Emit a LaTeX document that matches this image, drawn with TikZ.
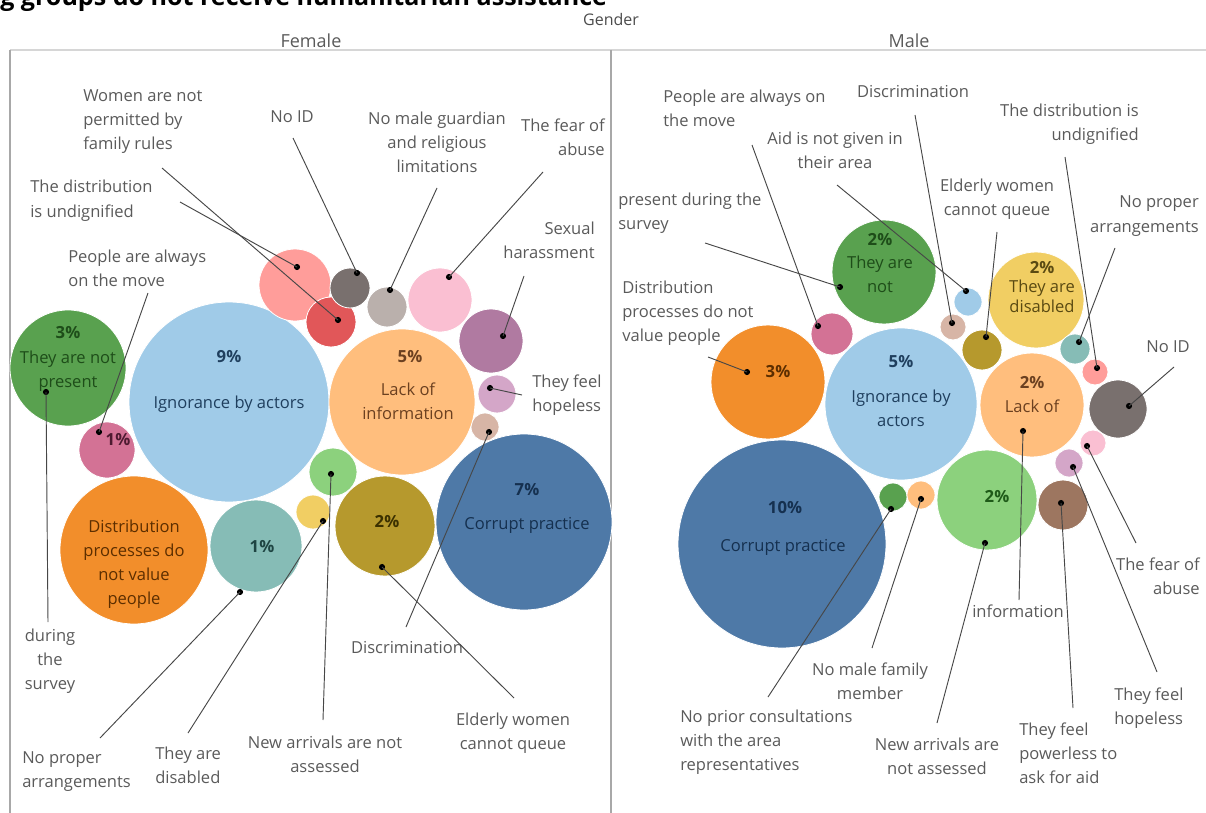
\documentclass[tikz,border=0pt]{standalone}
\usepackage{fontspec}
\setmainfont{Open Sans}
\definecolor{tblue}{HTML}{4E79A7}
\definecolor{tlblue}{HTML}{A0CBE8}
\definecolor{torange}{HTML}{F28E2B}
\definecolor{tlorange}{HTML}{FFBE7D}
\definecolor{tgreen}{HTML}{59A14F}
\definecolor{tlgreen}{HTML}{8CD17D}
\definecolor{tolive}{HTML}{B6992D}
\definecolor{tyellow}{HTML}{F1CE63}
\definecolor{tlteal}{HTML}{86BCB6}
\definecolor{tred}{HTML}{E15759}
\definecolor{tsalmon}{HTML}{FF9D9A}
\definecolor{tdgray}{HTML}{79706E}
\definecolor{tlgray}{HTML}{BAB0AC}
\definecolor{tpink}{HTML}{D37295}
\definecolor{tlpink}{HTML}{FABFD2}
\definecolor{tpurple}{HTML}{B07AA1}
\definecolor{tlpurple}{HTML}{D4A6C8}
\definecolor{tbrown}{HTML}{9D7660}
\definecolor{ttan}{HTML}{D7B5A6}
\definecolor{lblgray}{HTML}{5A5A5A}
\definecolor{framegray}{HTML}{A8A8A8}
\definecolor{rulegray}{HTML}{D6D6D6}
\definecolor{xgreen}{HTML}{1E4D19}
\definecolor{xlblue}{HTML}{1F3F5E}
\definecolor{xpink}{HTML}{4D1A30}
\definecolor{xorange}{HTML}{5C2E00}
\definecolor{xteal}{HTML}{1E4442}
\definecolor{xlorange}{HTML}{6B4020}
\definecolor{xolive}{HTML}{3B3000}
\definecolor{xblue}{HTML}{15304F}
\definecolor{xyellow}{HTML}{5A4A12}
\definecolor{xlgreen}{HTML}{1E5A18}
\newcommand\lblfont{\fontsize{12.4}{18}\selectfont}
\newcommand\pctfont{\bfseries\fontsize{12.5}{18}\selectfont}
\begin{document}
\begin{tikzpicture}[x=0.75pt,y=-0.75pt,
  bub/.style={circle, inner sep=0pt, minimum size=#1*1.5pt, draw=white, line width=0.6pt},
  dot/.style={circle, fill=black, inner sep=0pt, minimum size=4.6pt},
  leader/.style={draw=black!72, line width=0.7pt},
  lbl/.style={font=\lblfont, text=lblgray, inner sep=0pt, anchor=base},
  lblL/.style={lbl, align=left, anchor=base west},
  lblR/.style={lbl, align=right, anchor=base east},
  lblC/.style={lbl, align=center, anchor=base},
  intext/.style={font=\lblfont, inner sep=0pt, anchor=base, align=center, text=#1},
  pct/.style={font=\pctfont, inner sep=0pt, anchor=base, text=#1}]
\useasboundingbox (0,0) rectangle (1206,813);
\clip (0,0) rectangle (1206,813);
% title (clipped at top) and headers  -- multi-line nodes are anchored at the baseline of their last line
\node[font=\bfseries\fontsize{18.8}{20}\selectfont, inner sep=0pt, anchor=base west] (title) at (0,6) {g groups do not receive humanitarian assistance};
\node[font=\fontsize{12}{14}\selectfont, text=black!70, inner sep=0pt] (gender) at (611,20) {Gender};
\node[font=\fontsize{13.5}{16}\selectfont, text=lblgray, inner sep=0pt] (female) at (311,41) {Female};
\node[font=\fontsize{13.5}{16}\selectfont, text=lblgray, inner sep=0pt] (male) at (909,41) {Male};
\draw[rulegray, line width=0.8pt] (10,50) -- (1206,50);
\draw[framegray, line width=0.9pt] (10,50) -- (10,813);
\draw[framegray, line width=0.9pt] (611,50) -- (611,813);

% ---------------- Female bubbles
\node[bub=58, fill=tgreen] (fGrn) at (68,368) {};
\node[bub=28, fill=tpink] (fPnk) at (107,450) {};
\node[bub=100, fill=tlblue] (fIgn) at (229,402) {};
\node[bub=74, fill=torange] (fDist) at (134,550) {};
\node[bub=46, fill=tlteal] (fTeal) at (256,546) {};
\node[bub=36, fill=tsalmon] (fSal) at (295,285) {};
\node[bub=25, fill=tred] (fRed) at (331,322) {};
\node[bub=20, fill=tdgray] (fGray) at (350,288) {};
\node[bub=20, fill=tlgray] (fLGray) at (387,307) {};
\node[bub=32, fill=tlpink] (fLPnk) at (440,300) {};
\node[bub=32, fill=tpurple] (fPur) at (491,341) {};
\node[bub=19, fill=tlpurple] (fLPur) at (497,394) {};
\node[bub=14, fill=ttan] (fTan) at (485,427) {};
\node[bub=73, fill=tlorange] (fLack) at (402,402) {};
\node[bub=24, fill=tlgreen] (fLGrn) at (333,472) {};
\node[bub=17, fill=tyellow] (fYel) at (313,512) {};
\node[bub=50, fill=tolive] (fOli) at (385,526) {};
\node[bub=88, fill=tblue] (fBlue) at (524,522) {};

% Female bubble texts
\node[pct=xgreen] (tfGrnP) at (68,338) {3\%};
\node[intext=xgreen] (tfGrn) at (68,387) {They are not\\present};
\node[pct=xlblue] (tfIgnP) at (229,362) {9\%};
\node[intext=xlblue] (tfIgn) at (229,408) {Ignorance by actors};
\node[pct=xpink] (tfPnkP) at (118,445) {1\%};
\node[intext=xorange] (tfDist) at (134,604) {Distribution\\processes do\\not value\\people};
\node[pct=xteal] (tfTealP) at (262,552) {1\%};
\node[pct=xlorange] (tfLackP) at (410,362) {5\%};
\node[intext=xlorange] (tfLack) at (408,419) {Lack of\\information};
\node[pct=xolive] (tfOliP) at (387,527) {2\%};
\node[pct=xblue] (tfBlueP) at (527,495) {7\%};
\node[intext=xblue] (tfBlue) at (527,529) {Corrupt practice};

% Female dots
\node[dot] (dfRed) at (338,320) {};
\node[dot] (dfSal) at (297,267) {};
\node[dot] (dfPnk) at (99,432) {};
\node[dot] (dfGrn) at (46,392) {};
\node[dot] (dfGray) at (357,273) {};
\node[dot] (dfLGray) at (390,290) {};
\node[dot] (dfLPnk) at (449,277) {};
\node[dot] (dfPur) at (503,336) {};
\node[dot] (dfLPur) at (490,388) {};
\node[dot] (dfTan) at (489,432) {};
\node[dot] (dfTeal) at (240,592) {};
\node[dot] (dfYel) at (323,521) {};
\node[dot] (dfLGrn) at (331,474) {};
\node[dot] (dfOli) at (382,567) {};

% Female labels
\node[lblL] (lfWom) at (83,150) {Women are not\\permitted by\\family rules};
\node[lblL] (lfUnd) at (30,217) {The distribution\\is undignified};
\node[lblL] (lfMove) at (68,286) {People are always\\on the move};
\node[lblC] (lfNoID) at (292,123) {No ID};
\node[lblC] (lfGuard) at (437,173) {No male guardian\\and religious\\limitations};
\node[lblR] (lfFear) at (605,156) {The fear of\\abuse};
\node[lblR] (lfSex) at (595,258) {Sexual\\harassment};
\node[lblL] (lfHope) at (532,411) {They feel\\hopeless};
\node[lblC] (lfSurv) at (50,689) {during\\the\\survey};
\node[lblL] (lfProp) at (22,787) {No proper\\arrangements};
\node[lblL] (lfDis) at (155,783) {They are\\disabled};
\node[lblC] (lfNew) at (325,772) {New arrivals are not\\assessed};
\node[lblC] (lfDisc) at (407,653) {Discrimination};
\node[lblC] (lfEld) at (513,749) {Elderly women\\cannot queue};

% Female leader ends
\coordinate (efWom) at (162,168);
\coordinate (efUnd) at (180,202);
\coordinate (efMove) at (148,293);
\coordinate (efSurv) at (48,622);
\coordinate (efNoID) at (293,138);
\coordinate (efGuard) at (437,188);
\coordinate (efFear) at (543,172);
\coordinate (efSex) at (524,276);
\coordinate (efHope) at (522,395);
\coordinate (efDisc) at (406,627);
\coordinate (efProp) at (100,738);
\coordinate (efDis) at (188,733);
\coordinate (efNew) at (323,720);
\coordinate (efEld) at (514,698);

\draw[leader] (efWom) -- (dfRed.center);
\draw[leader] (efUnd) -- (dfSal.center);
\draw[leader] (efMove) -- (dfPnk.center);
\draw[leader] (dfGrn.center) -- (efSurv);
\draw[leader] (efNoID) -- (dfGray.center);
\draw[leader] (efGuard) -- (dfLGray.center);
\draw[leader] (efFear) -- (dfLPnk.center);
\draw[leader] (efSex) -- (dfPur.center);
\draw[leader] (dfLPur.center) -- (efHope);
\draw[leader] (dfTan.center) -- (efDisc);
\draw[leader] (dfTeal.center) -- (efProp);
\draw[leader] (dfYel.center) -- (efDis);
\draw[leader] (dfLGrn.center) -- (efNew);
\draw[leader] (dfOli.center) -- (efEld);

% ---------------- Male bubbles
\node[bub=52, fill=tgreen] (mGrn) at (884,272) {};
\node[bub=21, fill=tpink] (mPnk) at (832,334) {};
\node[bub=57, fill=torange] (mOr) at (768,382) {};
\node[bub=76, fill=tlblue] (mIgn) at (901,404) {};
\node[bub=104, fill=tblue] (mBlue) at (782,544) {};
\node[bub=14, fill=tgreen] (mSGrn) at (893,497) {};
\node[bub=14, fill=tlorange] (mSOr) at (921,495) {};
\node[bub=50, fill=tlgreen] (mLGrn) at (987,500) {};
\node[bub=52, fill=tlorange] (mLack) at (1032,405) {};
\node[bub=48, fill=tyellow] (mYel) at (1036,300) {};
\node[bub=14, fill=tlblue] (mLBlue) at (968,302) {};
\node[bub=13, fill=ttan] (mTan) at (953,327) {};
\node[bub=20, fill=tolive] (mOli) at (982,350) {};
\node[bub=15, fill=tlteal] (mTeal) at (1075,349) {};
\node[bub=13, fill=tsalmon] (mSal) at (1095,372) {};
\node[bub=29, fill=tdgray] (mGray) at (1118,409) {};
\node[bub=13, fill=tlpink] (mLPnk) at (1093,443) {};
\node[bub=14, fill=tlpurple] (mLPur) at (1069,463) {};
\node[bub=25, fill=tbrown] (mBrn) at (1063,505) {};

% Male bubble texts
\node[pct=xgreen] (tmGrnP) at (880,245) {2\%};
\node[intext=xgreen] (tmGrn) at (880,292) {They are\\not};
\node[pct=xorange] (tmOrP) at (778,377) {3\%};
\node[pct=xlblue] (tmIgnP) at (901,367) {5\%};
\node[intext=xlblue] (tmIgn) at (901,426) {Ignorance by\\actors};
\node[pct=xblue] (tmBlueP) at (785,513) {10\%};
\node[intext=xblue] (tmBlue) at (783,551) {Corrupt practice};
\node[pct=xyellow] (tmYelP) at (1042,273) {2\%};
\node[font=\fontsize{12.4}{15}\selectfont, inner sep=0pt, anchor=base, align=center, text=xyellow] (tmYel) at (1042,312) {They are\\disabled};
\node[pct=xlorange] (tmLackP) at (1032,388) {2\%};
\node[intext=xlorange] (tmLack) at (1032,412) {Lack of};
\node[pct=xlgreen] (tmLGrnP) at (997,502) {2\%};

% Male dots
\node[dot] (dmPnk) at (818,326) {};
\node[dot] (dmLBlue) at (966,291) {};
\node[dot] (dmGrn) at (840,287) {};
\node[dot] (dmTan) at (952,323) {};
\node[dot] (dmOli) at (986,337) {};
\node[dot] (dmSal) at (1097,368) {};
\node[dot] (dmTeal) at (1079,342) {};
\node[dot] (dmOr) at (747,372) {};
\node[dot] (dmGray) at (1129,406) {};
\node[dot] (dmLack) at (1023,431) {};
\node[dot] (dmLPnk) at (1087,446) {};
\node[dot] (dmLPur) at (1073,467) {};
\node[dot] (dmBrn) at (1061,503) {};
\node[dot] (dmLGrn) at (985,543) {};
\node[dot] (dmSOr) at (921,499) {};
\node[dot] (dmSGrn) at (891,509) {};

% Male labels
\node[lblL] (lmMove) at (663,127) {People are always on\\the move};
\node[lblC] (lmDisc) at (913,98) {Discrimination};
\node[lblC] (lmAid) at (835,169) {Aid is not given in\\their area};
\node[lblR] (lmUnd) at (1139,141) {The distribution is\\undignified};
\node[lblL] (lmPres) at (618,229) {present during the\\survey};
\node[lblC] (lmEld) at (997,215) {Elderly women\\cannot queue};
\node[lblR] (lmProp) at (1199,232) {No proper\\arrangements};
\node[lblL] (lmDist) at (622,341) {Distribution\\processes do not\\value people};
\node[lblC] (lmNoID) at (1168,352) {No ID};
\node[lblC] (lmInfo) at (1018,617) {information};
\node[lblR] (lmFear) at (1200,594) {The fear of\\abuse};
\node[lblC] (lmMale) at (870,699) {No male family\\member};
\node[lblL] (lmHope) at (1114,724) {They feel\\hopeless};
\node[lblL] (lmPrior) at (680,770) {No prior consultations\\with the area\\representatives};
\node[lblC] (lmNew) at (937,774) {New arrivals are\\not assessed};
\node[lblL] (lmPow) at (1019,783) {They feel\\powerless to\\ask for aid};

% Male leader ends
\coordinate (emMove) at (752,145);
\coordinate (emAid) at (837,185);
\coordinate (emPres) at (705,243);
\coordinate (emDisc) at (915,115);
\coordinate (emEld) at (997,232);
\coordinate (emUnd) at (1065,157);
\coordinate (emProp) at (1115,248);
\coordinate (emDist) at (708,357);
\coordinate (emNoID) at (1174,367);
\coordinate (emInfo) at (1019,600);
\coordinate (emFear) at (1136,543);
\coordinate (emHope) at (1157,672);
\coordinate (emPow) at (1073,708);
\coordinate (emNew) at (937,723);
\coordinate (emMale) at (872,648);
\coordinate (emPrior) at (768,697);

\draw[leader] (emMove) -- (dmPnk.center);
\draw[leader] (emAid) -- (dmLBlue.center);
\draw[leader] (emPres) -- (dmGrn.center);
\draw[leader] (emDisc) -- (dmTan.center);
\draw[leader] (emEld) -- (dmOli.center);
\draw[leader] (emUnd) -- (dmSal.center);
\draw[leader] (emProp) -- (dmTeal.center);
\draw[leader] (emDist) -- (dmOr.center);
\draw[leader] (emNoID) -- (dmGray.center);
\draw[leader] (dmLack.center) -- (emInfo);
\draw[leader] (dmLPnk.center) -- (emFear);
\draw[leader] (dmLPur.center) -- (emHope);
\draw[leader] (dmBrn.center) -- (emPow);
\draw[leader] (dmLGrn.center) -- (emNew);
\draw[leader] (dmSOr.center) -- (emMale);
\draw[leader] (dmSGrn.center) -- (emPrior);
\end{tikzpicture}
\end{document}
